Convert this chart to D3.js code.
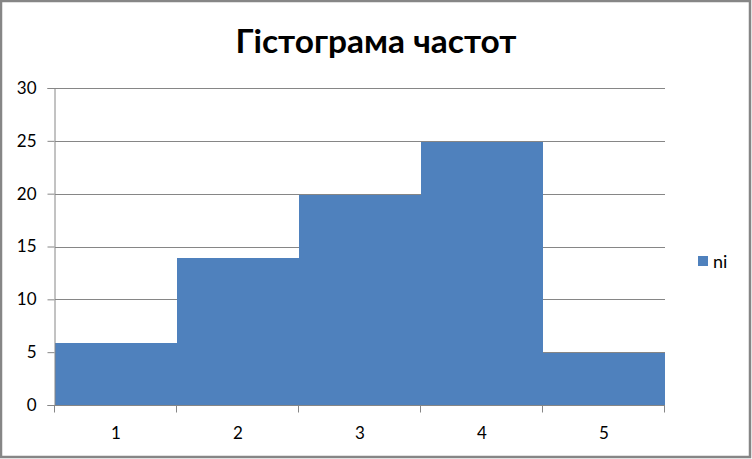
<!DOCTYPE html>
<html><head><meta charset="utf-8">
<script src="https://cdn.jsdelivr.net/npm/d3@7"></script>
<style>body{margin:0;background:#fff}svg{display:block}</style>
</head><body>
<script>
const categories = ["1","2","3","4","5"];
const values = [6,14,20,25,5];
const yTicks = [0,5,10,15,20,25,30];
const seriesName = "ni";
const title = "Гістограма частот";

(function(){
const W = 752, H = 459;
const svg = d3.select("body").append("svg").attr("width", W).attr("height", H);
svg.append("rect").attr("x",1).attr("y",1).attr("width",W-3).attr("height",H-3)
  .attr("fill","#fff").attr("stroke","#868686").attr("stroke-width",2.5);

const mLeft = 55, mRight = 665, mTop = 88, mBottom = 405;
const x = d3.scaleBand().domain(categories).range([mLeft, mRight]).padding(0);
const y = d3.scaleLinear().domain([0,30]).range([mBottom, mTop]);
const font = "Lato, 'Open Sans', sans-serif";
const grid = "#868686";

// gridlines
svg.append("g").selectAll("line").data(yTicks.filter(d=>d>0)).join("line")
  .attr("x1", mLeft).attr("x2", mRight)
  .attr("y1", d=>Math.round(y(d))+0.5).attr("y2", d=>Math.round(y(d))+0.5)
  .attr("stroke", grid).attr("stroke-width",1);

// bars
svg.append("g").selectAll("rect").data(values).join("rect")
  .attr("x", (d,i)=>x(categories[i]))
  .attr("width", x.bandwidth())
  .attr("y", d=>Math.round(y(d))+1)
  .attr("height", d=>mBottom - Math.round(y(d)) - 1)
  .attr("fill", "#4F81BD");

// y axis
const yAxis = d3.axisLeft(y).tickValues(yTicks).tickSize(7).tickPadding(11);
const gy = svg.append("g").attr("transform", `translate(${mLeft-0.5},0)`).call(yAxis);
gy.select(".domain").attr("stroke", grid);
gy.selectAll(".tick line").attr("stroke", grid);
gy.selectAll(".tick text").attr("font-family", font).attr("font-size", 17).attr("fill","#000");

// x axis
const gx = svg.append("g").attr("transform", `translate(0,${mBottom+0.5})`);
gx.append("line").attr("x1",mLeft-0.5).attr("x2",mRight).attr("stroke",grid);
const bounds = categories.map(c=>x(c)).concat([mRight]);
gx.selectAll("line.t").data(bounds).join("line").attr("class","t")
  .attr("x1",d=>d-0.5).attr("x2",d=>d-0.5).attr("y1",0).attr("y2",7).attr("stroke",grid);
gx.selectAll("text").data(categories).join("text")
  .attr("x", d=>x(d)+x.bandwidth()/2).attr("y", 33)
  .attr("text-anchor","middle").attr("font-family",font).attr("font-size",17).text(d=>d);

// title
svg.append("text").attr("x", 376).attr("y", 53).attr("text-anchor","middle")
  .attr("font-family", font).attr("font-weight","bold").attr("font-size",32)
  .attr("textLength",281).attr("lengthAdjust","spacingAndGlyphs").text(title);

// legend
svg.append("rect").attr("x",698).attr("y",256).attr("width",10).attr("height",10).attr("fill","#4F81BD");
svg.append("text").attr("x",713).attr("y",268).attr("font-family",font).attr("font-size",18).text(seriesName);
})();
</script>
</body></html>
